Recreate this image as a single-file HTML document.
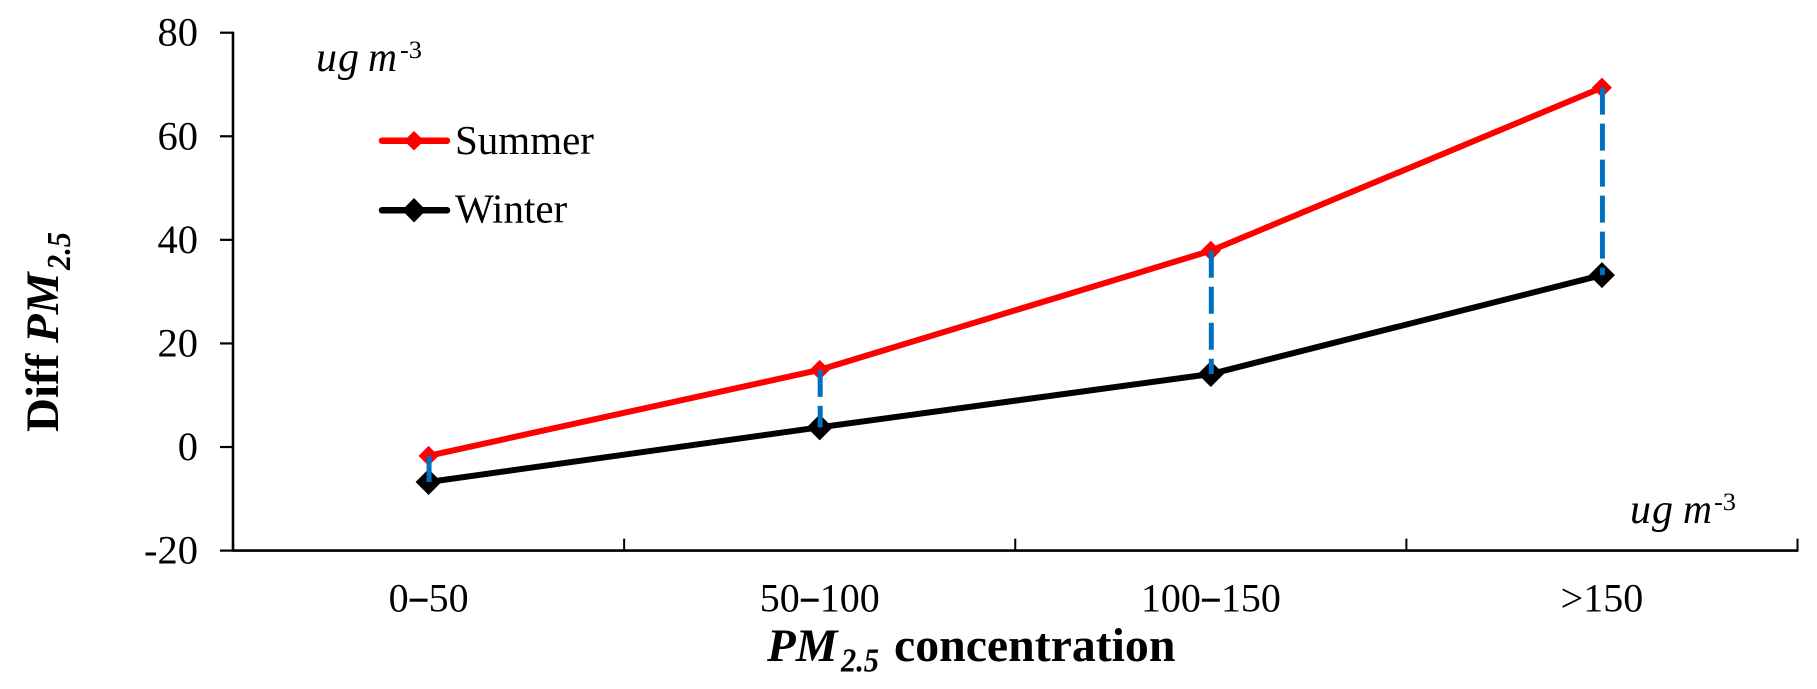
<!DOCTYPE html>
<html lang="en">
<head>
<meta charset="utf-8">
<title>Diff PM2.5 by PM2.5 concentration</title>
<style>
html,body{margin:0;padding:0;background:#fff;width:1817px;height:689px;overflow:hidden}
svg{display:block}
text{font-family:"Liberation Serif",serif;fill:#000}
</style>
</head>
<body>
<svg id="chart" xmlns="http://www.w3.org/2000/svg" width="1817" height="689" viewBox="0 0 1817 689">
  <rect x="0" y="0" width="1817" height="689" fill="#fff"/>
  <g id="axes"></g>
  <g id="series"></g>

  <g transform="translate(58,432) rotate(-90)">
    <text x="0" y="0" font-size="47" font-weight="bold">Diff</text>
    <text x="89" y="0" font-size="47" font-weight="bold" font-style="italic">PM</text>
    <text x="162" y="12" font-size="34" font-weight="bold" font-style="italic" textLength="38" lengthAdjust="spacingAndGlyphs">2.5</text>
  </g>

  <g>
    <text x="767" y="661" font-size="47" font-weight="bold" font-style="italic">PM</text>
    <text x="841" y="671.5" font-size="34" font-weight="bold" font-style="italic" textLength="38" lengthAdjust="spacingAndGlyphs">2.5</text>
    <text x="894" y="661" font-size="47.8" font-weight="bold">concentration</text>
  </g>

  <g>
    <text x="316" y="71" font-size="42" font-style="italic">u</text>
    <text x="338" y="71" font-size="42" font-style="italic">g</text>
    <text x="368" y="71" font-size="42" font-style="italic" textLength="29" lengthAdjust="spacingAndGlyphs">m</text>
    <text x="400" y="58" font-size="25" textLength="22" lengthAdjust="spacingAndGlyphs">-3</text>
  </g>
  <g>
    <text x="1630" y="523" font-size="42" font-style="italic">u</text>
    <text x="1652" y="523" font-size="42" font-style="italic">g</text>
    <text x="1683" y="523" font-size="42" font-style="italic" textLength="29" lengthAdjust="spacingAndGlyphs">m</text>
    <text x="1714" y="510" font-size="25" textLength="22" lengthAdjust="spacingAndGlyphs">-3</text>
  </g>

  <g>
    <g>
      <line x1="382" y1="140.7" x2="447" y2="140.7" stroke="#ff0000" stroke-width="6.5" stroke-linecap="round"/>
      <polygon points="414,131 424,140.7 414,150.5 404,140.7" fill="#ff0000"/>
      <text x="455" y="154" font-size="41">Summer</text>
    </g>
    <g>
      <line x1="382" y1="210.3" x2="447" y2="210.3" stroke="#000" stroke-width="6.5" stroke-linecap="round"/>
      <polygon points="414,198 426,210.3 414,222.5 402,210.3" fill="#000"/>
      <text x="455" y="222.7" font-size="41">Winter</text>
    </g>
  </g>
</svg>
<script>
var categories = ['0\u201350', '50\u2013100', '100\u2013150', '>150'];
var summerValues = [-1.7, 14.9, 37.9, 69.4];
var winterValues = [-6.75, 3.8, 14.1, 33.2];
var yTickValues = [80, 60, 40, 20, 0, -20];

var NS = 'http://www.w3.org/2000/svg';
var plotLeft = 233, plotRight = 1797.5, plotTop = 32.7, plotBottom = 550.6;
var yMax = 80, yMin = -20;

function xBand(i) {
  return plotLeft + (plotRight - plotLeft) * i / categories.length;
}
function xCenter(i) {
  return plotLeft + (plotRight - plotLeft) * (i + 0.5) / categories.length;
}
function yScale(v) {
  return plotTop + (yMax - v) / (yMax - yMin) * (plotBottom - plotTop);
}
function make(tag, attrs, parent) {
  var el = document.createElementNS(NS, tag);
  for (var k in attrs) { el.setAttribute(k, attrs[k]); }
  parent.appendChild(el);
  return el;
}

var axes = document.getElementById('axes');
var series = document.getElementById('series');

var yAxisLine = make('line', {x1: plotLeft, y1: plotTop - 1, x2: plotLeft, y2: plotBottom + 1, stroke: '#000', 'stroke-width': 2.6}, axes);



var xAxisLine = make('line', {x1: plotLeft, y1: plotBottom, x2: plotRight + 1, y2: plotBottom, stroke: '#000', 'stroke-width': 2.6}, axes);



yTickValues.forEach(function (v) {
  var tick = make('line', {x1: plotLeft - 13, y1: yScale(v), x2: plotLeft, y2: yScale(v), stroke: '#000', 'stroke-width': 2.2}, axes);
  
  
  var label = make('text', {x: 198, y: yScale(v) + 13, 'font-size': 40.5, 'text-anchor': 'end'}, axes);
  label.textContent = String(v);
  
  
});

categories.forEach(function (c, i) {
  var tick = make('line', {x1: xBand(i + 1), y1: plotBottom - 12, x2: xBand(i + 1), y2: plotBottom, stroke: '#000', 'stroke-width': 2}, axes);
  
  
  var label = make('text', {x: xCenter(i), y: 611.7, 'font-size': 40, 'text-anchor': 'middle'}, axes);
  
  
  var parts = c.split('\u2013');
  if (parts.length === 2) {
    make('tspan', {}, label).textContent = parts[0];
    make('tspan', {dx: 2, dy: -4, 'font-size': 32, stroke: '#000', 'stroke-width': 1.5}, label).textContent = '\u2013';
    make('tspan', {dx: 2, dy: 4}, label).textContent = parts[1];
  } else {
    label.textContent = c;
  }
});

function pointsOf(values) {
  return values.map(function (v, i) { return xCenter(i) + ',' + yScale(v); }).join(' ');
}
function diamond(cx, cy, r) {
  return cx + ',' + (cy - r) + ' ' + (cx + r) + ',' + cy + ' ' + cx + ',' + (cy + r) + ' ' + (cx - r) + ',' + cy;
}

var summerLine = make('polyline', {points: pointsOf(summerValues), fill: 'none', stroke: '#ff0000', 'stroke-width': 6}, series);



var winterLine = make('polyline', {points: pointsOf(winterValues), fill: 'none', stroke: '#000', 'stroke-width': 6}, series);



summerValues.forEach(function (v, i) {
  var m = make('polygon', {points: diamond(xCenter(i), yScale(v), 10), fill: '#ff0000'}, series);
  
  
});
winterValues.forEach(function (v, i) {
  var m = make('polygon', {points: diamond(xCenter(i), yScale(v), 13), fill: '#000'}, series);
  
  
});
summerValues.forEach(function (v, i) {
  var d = make('line', {x1: xCenter(i) + 0.5, y1: yScale(v), x2: xCenter(i) + 0.5, y2: yScale(winterValues[i]), stroke: '#0070c0', 'stroke-width': 5, 'stroke-dasharray': '27 9'}, series);
  
  
});
</script>
</body>
</html>
